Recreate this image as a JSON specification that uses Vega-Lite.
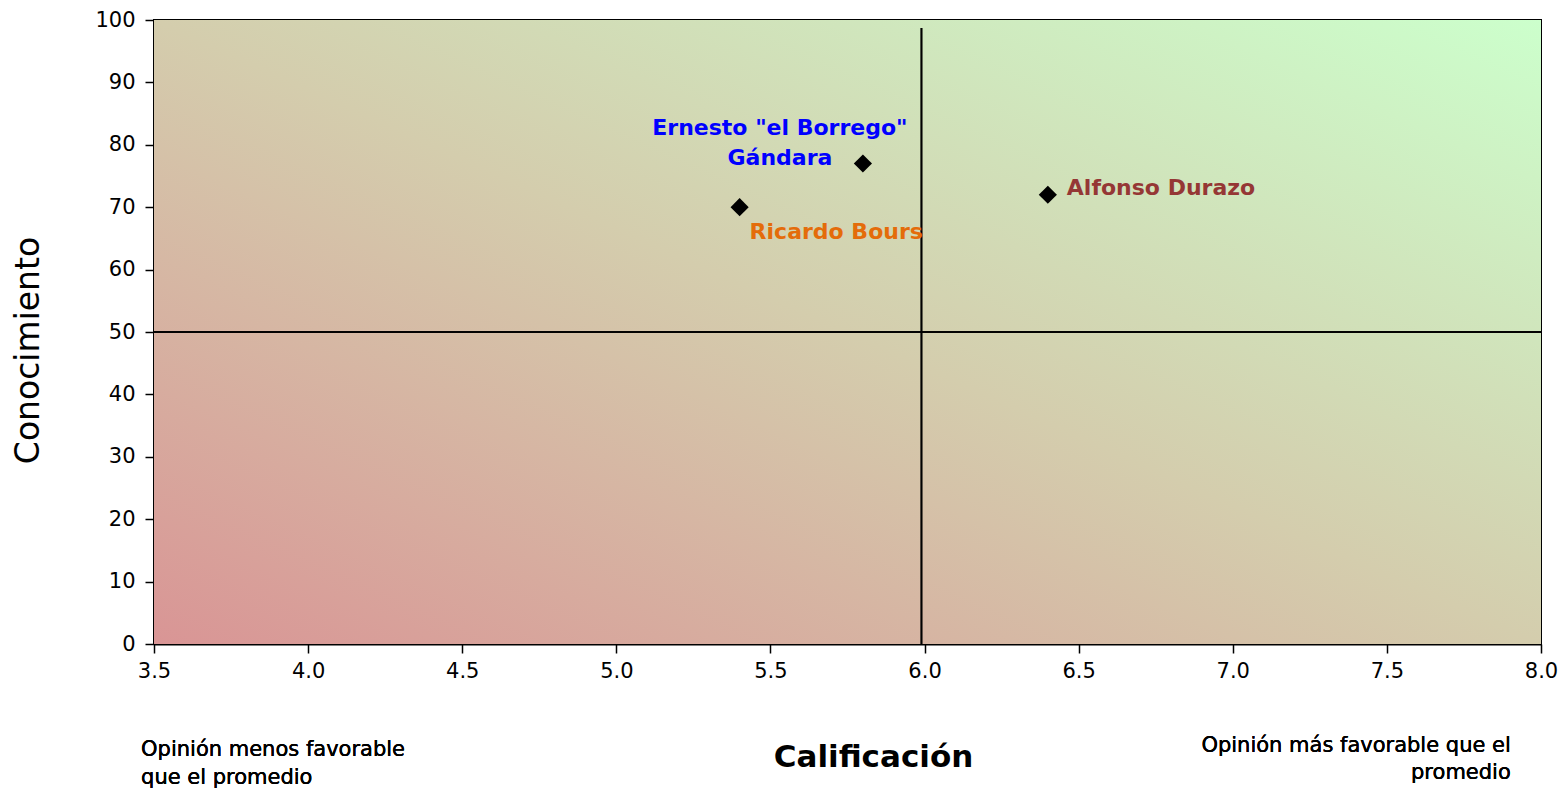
{
  "$schema": "https://vega.github.io/schema/vega-lite/v6.json",
  "width": 1387,
  "height": 624,
  "autosize": "none",
  "padding": {"left": 154, "top": 20, "right": 21, "bottom": 144},
  "background": "white",
  "config": {
    "font": "DejaVu Sans",
    "view": {"stroke": "black", "strokeWidth": 2},
    "axis": {
      "grid": false,
      "domainColor": "black",
      "domainWidth": 2,
      "tickColor": "black",
      "tickWidth": 1.5,
      "tickSize": 9,
      "labelColor": "black",
      "labelFontSize": 21,
      "labelFont": "DejaVu Sans",
      "labelFlush": false,
      "titleFont": "DejaVu Sans",
      "titleColor": "black"
    }
  },
  "data": {
    "values": [
      {"candidato": "Ricardo Bours", "calificacion": 5.4, "conocimiento": 70},
      {"candidato": "Ernesto \"el Borrego\" Gándara", "calificacion": 5.8, "conocimiento": 77},
      {"candidato": "Alfonso Durazo", "calificacion": 6.4, "conocimiento": 72}
    ]
  },
  "encoding": {
    "x": {
      "field": "calificacion",
      "type": "quantitative",
      "scale": {"domain": [3.5, 8], "nice": false, "zero": false},
      "axis": {
        "values": [3.5, 4, 4.5, 5, 5.5, 6, 6.5, 7, 7.5, 8],
        "format": ".1f",
        "labelPadding": 7,
        "title": "Calificación",
        "titleFontSize": 31,
        "titleFontWeight": "bold",
        "titleX": 719,
        "titleY": 122,
        "titleBaseline": "alphabetic",
        "titleAnchor": null
      }
    },
    "y": {
      "field": "conocimiento",
      "type": "quantitative",
      "scale": {"domain": [0, 100], "nice": false},
      "axis": {
        "values": [0, 10, 20, 30, 40, 50, 60, 70, 80, 90, 100],
        "labelPadding": 10,
        "title": "Conocimiento",
        "titleFontSize": 33,
        "titleFontWeight": "normal",
        "titleX": -126,
        "titleY": 330,
        "titleAngle": 270,
        "titleAlign": "center",
        "titleBaseline": "middle"
      }
    }
  },
  "layer": [
    {
      "mark": {
        "type": "rect",
        "color": {
          "gradient": "linear",
          "x1": 0, "y1": 1, "x2": 1, "y2": 0,
          "stops": [
            {"offset": 0, "color": "#D99595"},
            {"offset": 0.5, "color": "#D4CDAD"},
            {"offset": 1, "color": "#CCFFCC"}
          ]
        }
      },
      "encoding": {
        "x": {"datum": 3.5, "type": "quantitative"},
        "x2": {"datum": 8},
        "y": {"datum": 0, "type": "quantitative"},
        "y2": {"datum": 100}
      }
    },
    {
      "mark": {"type": "rule", "color": "black", "strokeWidth": 1.5},
      "encoding": {
        "x": {"datum": 5.99, "type": "quantitative"},
        "y": {"datum": 98.7, "type": "quantitative"},
        "y2": {"datum": 0}
      }
    },
    {
      "mark": {"type": "rule", "color": "black", "strokeWidth": 1.5},
      "encoding": {
        "y": {"datum": 50, "type": "quantitative"},
        "x": {"datum": 3.5, "type": "quantitative"},
        "x2": {"datum": 8}
      }
    },
    {
      "mark": {"type": "point", "shape": "diamond", "filled": true, "color": "black", "opacity": 1, "size": 330}
    },
    {
      "transform": [{"filter": "datum.candidato === 'Ricardo Bours'"}],
      "mark": {"type": "text", "align": "left", "baseline": "alphabetic", "dx": 10, "dy": 32, "fontSize": 22, "fontWeight": "bold", "color": "#E46C0A"},
      "encoding": {"text": {"field": "candidato"}}
    },
    {
      "transform": [{"filter": "datum.candidato === 'Alfonso Durazo'"}],
      "mark": {"type": "text", "align": "left", "baseline": "alphabetic", "dx": 19, "dy": 0, "fontSize": 22, "fontWeight": "bold", "color": "#953735"},
      "encoding": {"text": {"field": "candidato"}}
    },
    {
      "transform": [{"filter": "datum.candidato === 'Ernesto \"el Borrego\" Gándara'"}],
      "mark": {"type": "text", "align": "center", "baseline": "alphabetic", "dx": -83, "dy": -29, "fontSize": 22, "fontWeight": "bold", "color": "#0000FF", "lineHeight": 30},
      "encoding": {"text": {"value": ["Ernesto \"el Borrego\"", "Gándara"]}}
    },
    {
      "mark": {"type": "text", "align": "left", "baseline": "alphabetic", "fontSize": 21, "color": "black", "lineHeight": 28},
      "encoding": {
        "x": {"datum": 3.458, "type": "quantitative"},
        "y": {"datum": -18, "type": "quantitative"},
        "text": {"value": ["Opinión menos favorable", "que el promedio"]}
      }
    },
    {
      "mark": {"type": "text", "align": "right", "baseline": "alphabetic", "fontSize": 21, "color": "black", "lineHeight": 27},
      "encoding": {
        "x": {"datum": 7.902, "type": "quantitative"},
        "y": {"datum": -17.3, "type": "quantitative"},
        "text": {"value": ["Opinión más favorable que el", "promedio"]}
      }
    }
  ]
}
